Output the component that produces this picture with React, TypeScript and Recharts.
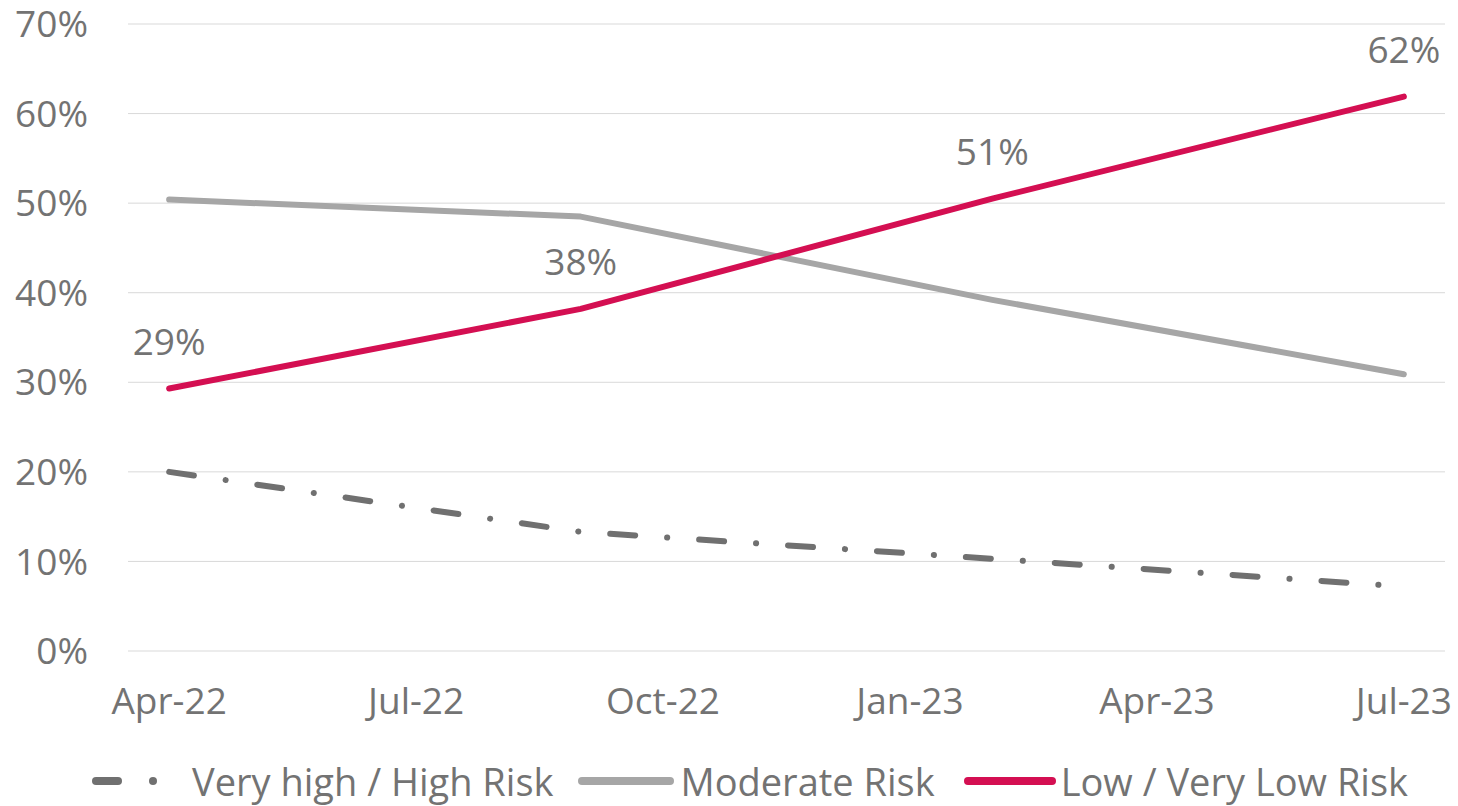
import React from 'react';
import { LineChart, Line, XAxis, YAxis, CartesianGrid, Legend, LabelList } from 'recharts';

// month index from Apr-22 (0 = Apr-22)
const monthIdx = [0, 5, 10, 15];
const veryHigh = [20, 13.3, 10.3, 7.2];
const moderate = [50.4, 48.5, 39.2, 30.9];
const lowRisk = [29.3, 38.2, 50.5, 61.9];

const tickMonths = [0, 3, 6, 9, 12, 15];
const tickLabels = ['Apr-22', 'Jul-22', 'Oct-22', 'Jan-23', 'Apr-23', 'Jul-23'];
const yTicks = [0, 10, 20, 30, 40, 50, 60, 70];

const seriesNames = ['Very high / High Risk', 'Moderate Risk', 'Low / Very Low Risk'];

const data = monthIdx.map((m, i) => ({
  m,
  veryHigh: veryHigh[i],
  moderate: moderate[i],
  low: lowRisk[i],
}));

const FONT = '"Open Sans", sans-serif';
const TEXT = '#737373';
const RED = '#D40F52';
const GRAY = '#A6A6A6';
const DARK = '#707070';

const renderLabel = (props: any) => {
  const { x, y, value } = props;
  return (
    <text x={x} y={y - 34} textAnchor="middle" fill={TEXT} fontSize={37} fontFamily={FONT}>
      {Math.round(value)}%
    </text>
  );
};

const LegendContent = () => (
  <div style={{ height: 50, display: 'flex', alignItems: 'center', fontFamily: FONT, fontSize: 38, color: TEXT, whiteSpace: 'nowrap', paddingLeft: 88 }}>
    <svg width={76} height={20} style={{ marginRight: 28 }}>
      <line x1={8} y1={10} x2={30} y2={10} stroke={DARK} strokeWidth={8} strokeLinecap="round" />
      <circle cx={65} cy={10} r={4} fill={DARK} />
    </svg>
    <span>{seriesNames[0]}</span>
    <svg width={100} height={20} style={{ marginLeft: 21, marginRight: 6 }}>
      <line x1={8} y1={10} x2={96} y2={10} stroke={GRAY} strokeWidth={8} strokeLinecap="round" />
    </svg>
    <span>{seriesNames[1]}</span>
    <svg width={96} height={20} style={{ marginLeft: 25, marginRight: 5 }}>
      <line x1={8} y1={10} x2={92} y2={10} stroke={RED} strokeWidth={8} strokeLinecap="round" />
    </svg>
    <span>{seriesNames[2]}</span>
  </div>
);

export default function App() {
  return (
    <div style={{ position: 'absolute', left: 0, top: 0, background: '#fff' }}>
      <LineChart width={1458} height={806} data={data} margin={{ top: 24, right: 13, left: 0, bottom: 0 }}>
        <CartesianGrid vertical={false} stroke="#D9D9D9" strokeWidth={1} />
        <XAxis
          dataKey="m"
          type="number"
          domain={[-0.5, 15.5]}
          ticks={tickMonths}
          tickFormatter={(v: number) => tickLabels[tickMonths.indexOf(v)]}
          axisLine={false}
          tickLine={false}
          tickSize={0}
          tickMargin={37}
          height={105}
          tick={{ fill: TEXT, fontSize: 37, fontFamily: FONT }}
          interval={0}
        />
        <YAxis
          domain={[0, 70]}
          ticks={yTicks}
          tickFormatter={(v: number) => `${v}%`}
          axisLine={false}
          tickLine={false}
          tickSize={0}
          tickMargin={40}
          width={128}
          tick={{ fill: TEXT, fontSize: 37, fontFamily: FONT }}
          interval={0}
        />
        <Legend verticalAlign="bottom" content={LegendContent} wrapperStyle={{ left: 0, width: 1458 }} />
        <Line
          name={seriesNames[0]}
          dataKey="veryHigh"
          type="linear"
          stroke={DARK}
          strokeWidth={6}
          strokeLinecap="round"
          strokeLinejoin="round"
          strokeDasharray="25 32 0.1 32"
          dot={false}
          activeDot={false}
          isAnimationActive={false}
        />
        <Line
          name={seriesNames[1]}
          dataKey="moderate"
          type="linear"
          stroke={GRAY}
          strokeWidth={6}
          strokeLinecap="round"
          strokeLinejoin="round"
          dot={false}
          activeDot={false}
          isAnimationActive={false}
        />
        <Line
          name={seriesNames[2]}
          dataKey="low"
          type="linear"
          stroke={RED}
          strokeWidth={6}
          strokeLinecap="round"
          strokeLinejoin="round"
          dot={false}
          activeDot={false}
          isAnimationActive={false}
        >
          <LabelList dataKey="low" content={renderLabel} />
        </Line>
      </LineChart>
    </div>
  );
}
